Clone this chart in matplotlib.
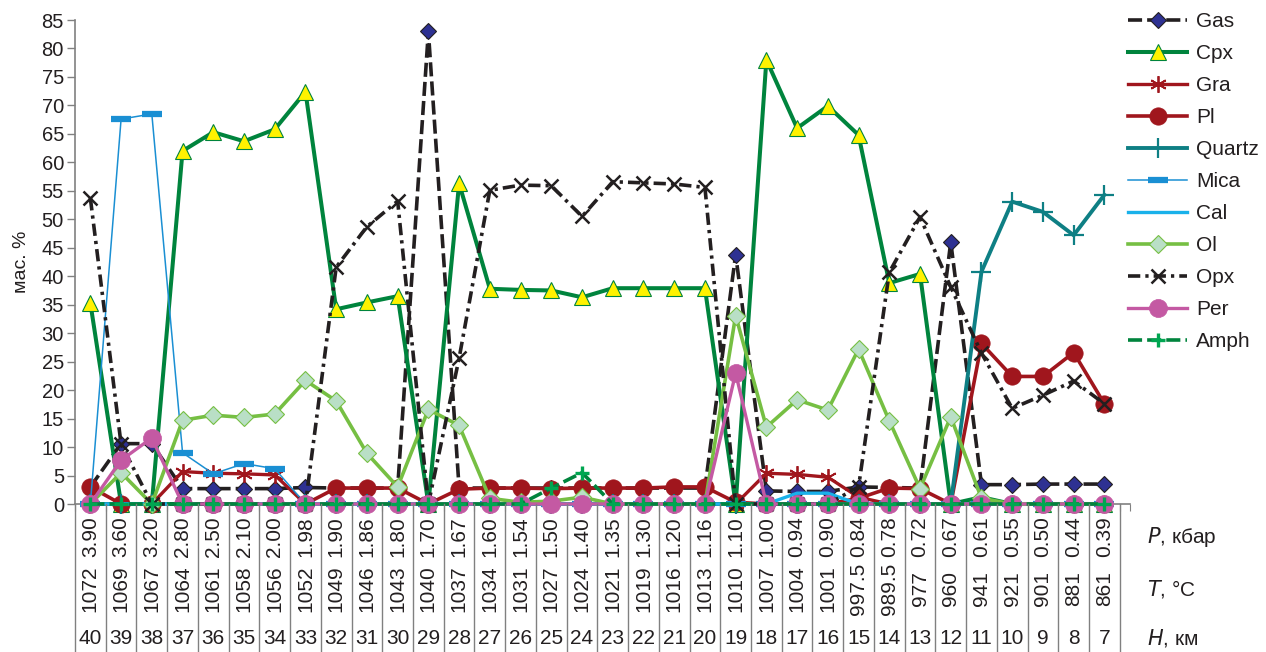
import numpy as np
import matplotlib
matplotlib.use("Agg")
import matplotlib.pyplot as plt
from matplotlib import transforms
from matplotlib.lines import Line2D

plt.rcParams['font.family'] = ['Liberation Sans', 'DejaVu Sans']

# Depth profile: H (km), P (kbar), T (°C)
depth_km = ["40", "39", "38", "37", "36", "35", "34", "33", "32", "31", "30", "29",
            "28", "27", "26", "25", "24", "23", "22", "21", "20", "19", "18", "17",
            "16", "15", "14", "13", "12", "11", "10", "9", "8", "7"]
pressure = ["3.90", "3.60", "3.20", "2.80", "2.50", "2.10", "2.00", "1.98", "1.90",
            "1.86", "1.80", "1.70", "1.67", "1.60", "1.54", "1.50", "1.40", "1.35",
            "1.30", "1.20", "1.16", "1.10", "1.00", "0.94", "0.90", "0.84", "0.78",
            "0.72", "0.67", "0.61", "0.55", "0.50", "0.44", "0.39"]
temperature = ["1072", "1069", "1067", "1064", "1061", "1058", "1056", "1052", "1049",
               "1046", "1043", "1040", "1037", "1034", "1031", "1027", "1024", "1021",
               "1019", "1016", "1013", "1010", "1007", "1004", "1001", "997.5", "989.5",
               "977", "960", "941", "921", "901", "881", "861"]

# Phase contents, mass %
gas = [3.0, 10.6, 10.6, 2.7, 2.7, 2.7, 2.7, 2.9, 2.8, 2.8, 2.8, 83.0,
       2.8, 2.8, 2.8, 2.8, 2.8, 2.8, 2.8, 2.8, 2.8, 43.8, 2.3, 2.2,
       2.2, 3.0, 2.9, 2.8, 46.0, 3.4, 3.4, 3.5, 3.5, 3.5]
cpx = [35.3, 0, 0, 62.0, 65.3, 63.7, 65.8, 72.4, 34.2, 35.4, 36.5, 0,
       56.3, 37.8, 37.6, 37.5, 36.3, 37.9, 37.9, 37.9, 37.9, 0, 78.0, 66.0,
       69.9, 64.8, 38.8, 40.4, 0, 1.2, 0, 0, 0, 0]
gra = [0, 0, 0, 5.7, 5.4, 5.3, 5.1, 0, 0, 0, 0, 0,
       0, 0, 0, 0, 0, 0, 0, 0, 0, 0, 5.4, 5.2,
       4.7, 1.2, 0, 0, 0, 0, 0, 0, 0, 0]
pl = [3.0, 0, 0, 0, 0, 0, 0, 0, 2.8, 2.8, 2.8, 0,
      2.6, 2.8, 2.8, 2.7, 2.8, 2.8, 2.8, 3.0, 3.0, 0.3, 0, 0,
      0, 1.0, 2.8, 2.7, 0, 28.2, 22.4, 22.4, 26.6, 17.6]
quartz = [0, 0, 0, 0, 0, 0, 0, 0, 0, 0, 0, 0,
          0, 0, 0, 0, 0, 0, 0, 0, 0, 0, 0, 0,
          0, 0, 0, 0, 0, 40.8, 53.1, 51.3, 47.2, 54.3]
mica = [0, 67.6, 68.5, 9.0, 5.3, 7.1, 6.2, 0, 0, 0, 0, 0,
        0, 0, 0, 0, 0, 0, 0, 0, 0, 0, 0, 0,
        0, 0, 0, 0, 0, 0, 0, 0, 0, 0]
cal = [0, 0, 0, 0, 0, 0, 0, 0, 0, 0, 0, 0,
       0, 0, 0, 0, 0, 0, 0, 0, 0, 0, 0, 1.9,
       1.9, 0, 0, 0, 0, 0, 0, 0, 0, 0]
ol = [0, 5.5, 0, 14.7, 15.6, 15.2, 15.8, 21.7, 18.1, 8.9, 3.0, 16.6,
      13.8, 1.0, 0.3, 0.5, 1.2, 0, 0, 0, 0, 33.1, 13.5, 18.3,
      16.5, 27.2, 14.6, 2.7, 15.3, 1.0, 0, 0, 0, 0]
opx = [53.7, 10.5, 0, 0, 0, 0, 0, 0, 41.6, 48.7, 53.2, 0,
       25.6, 55.1, 56.0, 55.9, 50.5, 56.6, 56.4, 56.2, 55.6, 0, 0, 0,
       0, 3.0, 40.7, 50.4, 38.1, 26.5, 16.8, 19.1, 21.6, 17.6]
per = [0, 7.7, 11.6, 0, 0, 0, 0, 0, 0, 0, 0, 0,
       0, 0, 0, 0, 0, 0, 0, 0, 0, 23.0, 0, 0,
       0, 0, 0, 0, 0, 0, 0, 0, 0, 0]
amph = [0, 0, 0, 0, 0, 0, 0, 0, 0, 0, 0, 0,
        0, 0, 0, 2.8, 5.5, 0, 0, 0, 0, 0, 0, 0,
        0, 0, 0, 0, 0, 0, 0, 0, 0, 0]

W, H = 1266, 652
fig = plt.figure(figsize=(W / 100, H / 100), dpi=100)
ax_left, ax_right, ax_top, ax_bottom = 75, 1130, 20, 504
ax = fig.add_axes([ax_left / W, 1 - ax_bottom / H,
                   (ax_right - ax_left) / W, (ax_bottom - ax_top) / H])

x = np.arange(len(depth_km))

dark = '#231f20'
green = '#00843d'
red = '#a0161d'

series = [
    dict(y=gas, label='Gas', color=dark, lw=2.6, dashes=(3.9, 1.4),
         marker='D', ms=8.5, mfc='#2e3192', mec=dark, mew=0.8),
    dict(y=cpx, label='Cpx', color=green, lw=2.9, ls='-',
         marker='^', ms=11, mfc='#fff200', mec=green, mew=0.8),
    dict(y=gra, label='Gra', color=red, lw=2.4, ls='-',
         marker=(6, 2, 0), ms=12, mfc=red, mec=red, mew=1.3),
    dict(y=pl, label='Pl', color=red, lw=2.6, ls='-',
         marker='o', ms=12.5, mfc=red, mec=red, mew=0.5),
    dict(y=quartz, label='Quartz', color='#0e7f84', lw=2.8, ls='-',
         marker='+', ms=15, mfc='#0e7f84', mec='#0e7f84', mew=1.6),
    dict(y=mica, label='Mica', color='#1a8fd3', lw=1.1, ls='-',
         marker='_', ms=14, mfc='#1a8fd3', mec='#1a8fd3', mew=4.5),
    dict(y=cal, label='Cal', color='#19b1ea', lw=2.4, ls='-',
         marker='None'),
    dict(y=ol, label='Ol', color='#76bf43', lw=2.6, ls='-',
         marker='D', ms=9, mfc='#b9dfc6', mec='#76bf43', mew=0.8),
    dict(y=opx, label='Opx', color=dark, lw=2.6, dashes=(3.4, 1.4, 0.9, 1.4),
         marker='x', ms=10.5, mfc=dark, mec=dark, mew=1.8),
    dict(y=per, label='Per', color='#c459a3', lw=2.4, ls='-',
         marker='o', ms=13, mfc='#c459a3', mec='#c459a3', mew=0.5),
    dict(y=amph, label='Amph', color='#00843d', lw=2.6, dashes=(3.9, 1.4),
         marker='+', ms=10, mfc='#00a651', mec='#00a651', mew=2.4),
]

handles = []
for z, s in enumerate(series):
    kw = dict(color=s['color'], lw=s['lw'], marker=s['marker'],
              label=s['label'], clip_on=False, zorder=3 + z * 0.1)
    if 'dashes' in s:
        kw['dashes'] = s['dashes']
    else:
        kw['ls'] = s['ls']
    if s['marker'] != 'None':
        kw.update(ms=s['ms'], mfc=s['mfc'], mec=s['mec'], mew=s['mew'])
    line, = ax.plot(x, s['y'], **kw)
    handles.append(line)

ax.set_xlim(-0.5, len(x) - 0.5)
ax.set_ylim(0, 85)
ax.set_yticks(np.arange(0, 86, 5))
ax.set_xticks([])
ax.set_xticks(np.arange(-0.5, len(x), 1 / 3), minor=True)
ax.tick_params(axis='x', which='minor', length=5, color='#808080', width=0.8)
ax.tick_params(axis='y', labelsize=14.5, length=6, color='#808080', width=1,
               labelcolor=dark, pad=2)
for side in ('top', 'right'):
    ax.spines[side].set_visible(False)
for side in ('left', 'bottom'):
    ax.spines[side].set_color('#808080')
    ax.spines[side].set_linewidth(1.2)

fig.text(21 / W, 1 - 262 / H, 'мас. %', rotation=90, fontsize=14,
         ha='center', va='center', color=dark)

# Table below the plot: P, T and H for each depth column
tr = transforms.blended_transform_factory(ax.transData, fig.transFigure)
for k in range(len(x) + 1):
    fig.add_artist(Line2D([k - 0.5, k - 0.5], [0, 1 - ax_bottom / H],
                          transform=tr, color='#808080', lw=1.0))

y_p = 1 - 537 / H
y_t = 1 - 589 / H
y_h = 1 - 638 / H
for i in range(len(x)):
    fig.text(i, y_p, pressure[i], transform=tr, rotation=90, fontsize=15,
             ha='center', va='center', color=dark)
    fig.text(i, y_t, temperature[i], transform=tr, rotation=90, fontsize=15,
             ha='center', va='center', color=dark)
    fig.text(i, y_h, depth_km[i], transform=tr, fontsize=15,
             ha='center', va='center', color=dark,
             family=['Liberation Sans Narrow', 'Liberation Sans', 'DejaVu Sans'])

row_x = 1147 / W
fig.text(row_x, y_p, '$\\it{P}$, кбар', fontsize=15, ha='left', va='center', color=dark)
fig.text(row_x, y_t, '$\\it{T}$, °C', fontsize=15, ha='left', va='center', color=dark)
fig.text(row_x, y_h, '$\\it{H}$, км', fontsize=15, ha='left', va='center', color=dark)

leg = fig.legend(handles=handles, loc='upper left',
                 bbox_to_anchor=(1128 / W, 1 - 12 / H), frameon=False,
                 fontsize=15, handlelength=2.85, handletextpad=0.42,
                 labelspacing=0.625, borderpad=0, borderaxespad=0)
for t in leg.get_texts():
    t.set_color(dark)

fig.savefig('out.png', dpi=100)
